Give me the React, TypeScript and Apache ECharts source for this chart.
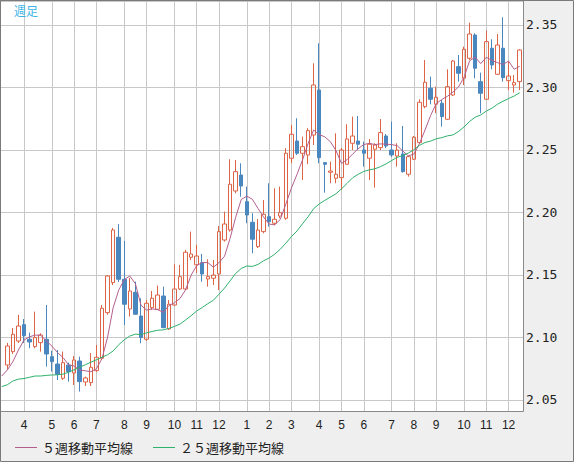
import React, { useEffect, useRef } from "react";
import * as echarts from "echarts";

// Month number of each weekly candle (first visible week .. last week)
const priorMonth = 3;
const weekMonths = [
  3, 3, 3,
  4, 4, 4, 4, 4,
  5, 5, 5, 5,
  6, 6, 6, 6,
  7, 7, 7, 7, 7,
  8, 8, 8, 8,
  9, 9, 9, 9, 9,
  10, 10, 10, 10,
  11, 11, 11, 11,
  12, 12, 12, 12, 12,
  1, 1, 1, 1,
  2, 2, 2, 2,
  3, 3, 3, 3, 3,
  4, 4, 4, 4,
  5, 5, 5, 5,
  6, 6, 6, 6, 6,
  7, 7, 7, 7,
  8, 8, 8, 8,
  9, 9, 9, 9, 9,
  10, 10, 10, 10,
  11, 11, 11, 11,
  12, 12, 12,
];

const opens = [
  2.0778, 2.0885, 2.097, 2.1101, 2.0984, 2.0925, 2.0957, 2.0984, 2.0845, 2.0786,
  2.0672, 2.0778, 2.0714, 2.081, 2.0642, 2.0637, 2.0733, 2.0832, 2.1197, 2.1437,
  2.18, 2.1464, 2.1226, 2.136, 2.117, 2.0984, 2.1237, 2.1224, 2.133, 2.1066,
  2.1258, 2.1386, 2.1386, 2.164, 2.158, 2.1597, 2.1466, 2.1472, 2.1506, 2.1778,
  2.1858, 2.217, 2.2298, 2.2085, 2.192, 2.1725, 2.1845, 2.1965, 2.1912, 2.197,
  2.1952, 2.2432, 2.257, 2.2472, 2.2458, 2.2618, 2.2978, 2.2397, 2.232, 2.2272,
  2.2277, 2.2384, 2.2552, 2.257, 2.2498, 2.2432, 2.2504, 2.2517, 2.261, 2.2498,
  2.245, 2.2466, 2.2304, 2.2424, 2.2557, 2.2845, 2.2992, 2.2864, 2.2872, 2.2744,
  2.2938, 2.3165, 2.3072, 2.3232, 2.3418, 2.3045, 2.2904, 2.3312, 2.3104, 2.3312,
  2.3053, 2.3018, 2.3045,
];

const closes = [
  2.093, 2.1024, 2.109, 2.1013, 2.0962, 2.0997, 2.1018, 2.0866, 2.0805, 2.0704,
  2.0797, 2.0725, 2.0818, 2.0645, 2.0674, 2.076, 2.084, 2.1232, 2.149, 2.1858,
  2.1464, 2.1264, 2.137, 2.1184, 2.0997, 2.1272, 2.1312, 2.1338, 2.1077, 2.1264,
  2.1386, 2.1485, 2.168, 2.1666, 2.165, 2.1506, 2.1485, 2.1498, 2.1845, 2.1906,
  2.2224, 2.2325, 2.221, 2.1978, 2.1784, 2.1858, 2.1984, 2.1925, 2.1944, 2.1997,
  2.2472, 2.2624, 2.2472, 2.2525, 2.2653, 2.3018, 2.2437, 2.2384, 2.233, 2.2304,
  2.2498, 2.2586, 2.261, 2.2544, 2.2472, 2.2544, 2.2538, 2.2637, 2.253, 2.2458,
  2.2498, 2.2325, 2.2445, 2.26, 2.288, 2.304, 2.2904, 2.292, 2.2765, 2.3005,
  2.321, 2.3112, 2.3304, 2.3426, 2.3152, 2.2952, 2.3365, 2.3178, 2.3338, 2.3077,
  2.309, 2.3037, 2.3298,
];

const lows = [
  2.0745, 2.0866, 2.0954, 2.0954, 2.0912, 2.0912, 2.0885, 2.0765, 2.0725, 2.0658,
  2.0658, 2.0645, 2.0618, 2.0565, 2.061, 2.061, 2.0722, 2.0818, 2.118, 2.1418,
  2.1442, 2.1098, 2.1165, 2.118, 2.0952, 2.097, 2.1218, 2.1218, 2.1072, 2.1058,
  2.125, 2.1378, 2.1378, 2.1618, 2.1514, 2.1445, 2.1405, 2.1418, 2.1378, 2.1765,
  2.1845, 2.2152, 2.2125, 2.1912, 2.1672, 2.1714, 2.1832, 2.1885, 2.1898, 2.1952,
  2.194, 2.2392, 2.2458, 2.2258, 2.2384, 2.2538, 2.2392, 2.2157, 2.2232, 2.2232,
  2.2178, 2.238, 2.2498, 2.2498, 2.2365, 2.2258, 2.2197, 2.2498, 2.2514, 2.2442,
  2.2365, 2.2317, 2.2285, 2.2418, 2.2546, 2.2832, 2.2864, 2.2792, 2.2685, 2.2738,
  2.293, 2.3045, 2.3018, 2.3218, 2.3072, 2.2792, 2.2898, 2.3144, 2.3098, 2.3045,
  2.2978, 2.2957, 2.2978,
];

const highs = [
  2.0955, 2.1074, 2.118, 2.1146, 2.1037, 2.1205, 2.1032, 2.1258, 2.0893, 2.0898,
  2.0885, 2.0797, 2.085, 2.0845, 2.0685, 2.0874, 2.0938, 2.1258, 2.1498, 2.1874,
  2.1906, 2.177, 2.1474, 2.1445, 2.1312, 2.1298, 2.137, 2.1413, 2.1405, 2.1298,
  2.1584, 2.1578, 2.17, 2.1845, 2.174, 2.1667, 2.1624, 2.1618, 2.189, 2.2005,
  2.2424, 2.2418, 2.2392, 2.2205, 2.1992, 2.1946, 2.2098, 2.2232, 2.2192, 2.2205,
  2.2512, 2.2698, 2.2752, 2.2605, 2.2672, 2.3192, 2.3352, 2.2402, 2.2405, 2.2632,
  2.2514, 2.2704, 2.2765, 2.277, 2.2565, 2.2586, 2.2552, 2.2746, 2.2626, 2.2725,
  2.2552, 2.269, 2.2453, 2.261, 2.2904, 2.3218, 2.3085, 2.3005, 2.2898, 2.3144,
  2.3218, 2.3258, 2.3325, 2.3517, 2.3432, 2.3117, 2.3453, 2.3384, 2.3426, 2.356,
  2.3205, 2.3098, 2.3304,
];

// Moving-average values read from the picture where the window reaches before the first candle
// (first entry = the week before the first visible candle)
const ma5Lead = [2.069, 2.0738, 2.0805, 2.0898, 2.0978];
const ma25Lead = [
  2.0605, 2.062, 2.065, 2.0665, 2.067, 2.068, 2.069, 2.069, 2.0695, 2.0698,
  2.07, 2.0705, 2.072, 2.074, 2.076, 2.078, 2.08, 2.082, 2.084, 2.086,
  2.089, 2.094, 2.098, 2.101, 2.1025,
];

const seriesNames = ["５週移動平均線", "２５週移動平均線"];
const periodLabel = "週足";

const Y_MIN = 2.041;
const Y_MAX = 2.369;

const UP = "#de6446";
const DOWN = "#4a87bf";
const MA5_COLOR = "#b35f8e";
const MA25_COLOR = "#2fb06c";
const GRID_COLOR = "#c8c8c8";

function sma(n: number, lead: number[]): number[] {
  const rest: number[] = [];
  for (let i = n - 1; i < closes.length; i++) {
    let s = 0;
    for (let k = i - n + 1; k <= i; k++) s += closes[k];
    rest.push(s / n);
  }
  return [...lead, ...rest];
}

export default function App() {
  const ref = useRef<HTMLDivElement>(null);

  useEffect(() => {
    if (!ref.current) return;
    const chart = echarts.init(ref.current, undefined, { renderer: "svg" });

    const months = [priorMonth, ...weekMonths];
    const cats = months.map((m, i) => `${i}:${m}`);
    const isMonthStart = (i: number) => i > 0 && months[i] !== months[i - 1];

    const candleData: any[] = [["-", "-", "-", "-"]];
    for (let i = 0; i < opens.length; i++) {
      candleData.push([opens[i], closes[i], lows[i], highs[i]]);
    }
    const ma5 = sma(5, ma5Lead);
    const ma25 = sma(25, ma25Lead);

    const legendY = 447.5;
    const legendItems = [
      { x: 15, color: MA5_COLOR, name: seriesNames[0] },
      { x: 153, color: MA25_COLOR, name: seriesNames[1] },
    ];
    const legendGraphics: any[] = [];
    legendItems.forEach((it) => {
      legendGraphics.push({
        type: "line",
        silent: true,
        z: 100,
        shape: { x1: it.x, y1: legendY, x2: it.x + 22, y2: legendY },
        style: { stroke: it.color, lineWidth: 1 },
      });
      legendGraphics.push({
        type: "text",
        silent: true,
        z: 100,
        x: it.x + 27,
        y: legendY,
        style: {
          text: it.name,
          fill: "#222",
          fontSize: 13,
          fontFamily: "Noto Sans CJK JP",
          verticalAlign: "middle",
          align: "left",
        },
      });
    });

    const option: any = {
      animation: false,
      backgroundColor: "#efefef",
      grid: [
        {
          left: 1,
          top: 1,
          width: 522,
          height: 410,
          show: true,
          backgroundColor: "#ffffff",
          borderWidth: 0,
        },
        { left: 1.73, top: 1, width: 518, height: 410 },
      ],
      xAxis: [
        { gridIndex: 0, type: "value", min: 0, max: 1, show: false },
        {
          gridIndex: 1,
          type: "category",
          data: cats,
          boundaryGap: false,
          axisLine: { show: false },
          axisTick: { show: false },
          axisLabel: {
            interval: (i: number) => isMonthStart(i),
            formatter: (_v: string, i: number) => String(months[i]),
            margin: 8,
            color: "#222",
            fontSize: 12,
            fontFamily: "Liberation Sans",
          },
          splitLine: {
            show: true,
            interval: (i: number) => isMonthStart(i),
            lineStyle: { color: GRID_COLOR, width: 1 },
          },
        },
      ],
      yAxis: [
        {
          gridIndex: 0,
          type: "value",
          position: "right",
          min: Y_MIN,
          max: Y_MAX,
          axisLine: { show: false },
          axisTick: { show: false },
          axisLabel: {
            margin: 3,
            showMinLabel: false,
            showMaxLabel: false,
            color: "#222",
            fontSize: 13,
            fontFamily: "DejaVu Sans Mono",
            formatter: (v: number) =>
              Math.abs(v * 20 - Math.round(v * 20)) < 1e-6 ? v.toFixed(2) : "",
          },
          splitLine: { show: true, lineStyle: { color: GRID_COLOR, width: 1 } },
        },
        { gridIndex: 1, type: "value", min: Y_MIN, max: Y_MAX, show: false },
      ],
      series: [
        {
          type: "candlestick",
          xAxisIndex: 1,
          yAxisIndex: 1,
          data: candleData,
          barWidth: 4,
          clip: false,
          z: 3,
          itemStyle: {
            color: "transparent",
            color0: DOWN,
            borderColor: UP,
            borderColor0: DOWN,
            borderWidth: 1,
          },
        },
        {
          name: seriesNames[0],
          type: "line",
          xAxisIndex: 1,
          yAxisIndex: 1,
          data: ma5,
          symbol: "none",
          clip: false,
          z: 4,
          lineStyle: { color: MA5_COLOR, width: 1 },
          itemStyle: { color: MA5_COLOR },
        },
        {
          name: seriesNames[1],
          type: "line",
          xAxisIndex: 1,
          yAxisIndex: 1,
          data: ma25,
          symbol: "none",
          clip: false,
          z: 4,
          lineStyle: { color: MA25_COLOR, width: 1 },
          itemStyle: { color: MA25_COLOR },
        },
      ],
      graphic: [
        {
          type: "rect",
          z: 100,
          silent: true,
          shape: { x: 0.5, y: 0.5, width: 523, height: 411 },
          style: { fill: "none", stroke: "#8a8a8a", lineWidth: 1 },
        },
        {
          type: "rect",
          z: 100,
          silent: true,
          shape: { x: 0.5, y: 0.5, width: 573, height: 461 },
          style: { fill: "none", stroke: "#7a7a7a", lineWidth: 1 },
        },
        {
          type: "text",
          z: 100,
          left: 14,
          top: 4,
          style: {
            text: periodLabel,
            fill: "#3db4e6",
            fontSize: 12,
            fontFamily: "Noto Sans CJK JP",
          },
        },
        ...legendGraphics,
      ],
    };

    chart.setOption(option);
    return () => chart.dispose();
  }, []);

  return (
    <div
      ref={ref}
      style={{ position: "absolute", left: 0, top: 0, width: 574, height: 462 }}
    />
  );
}
